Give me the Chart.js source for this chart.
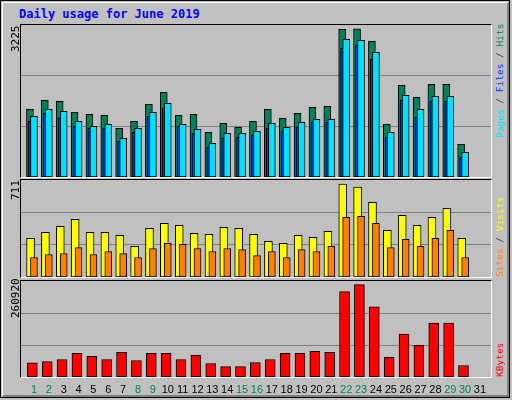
<!DOCTYPE html>
<html>
<head>
<meta charset="utf-8">
<script src="https://cdn.jsdelivr.net/npm/chart.js@4"></script>
<style>
  body { margin: 0; background: #c0c0c0; }
  #frame { position: absolute; left: 0; top: 0; width: 508px; height: 396px; background: #c0c0c0;
           border: 1px solid #000; border-right-width: 1px; }
  #bevel { position: absolute; left: 1px; top: 1px; width: 504px; height: 392px;
           border-top: 1px solid #fff; border-left: 1px solid #fff;
           border-right: 2px solid #808080; border-bottom: 2px solid #808080; }
  .panel { position: absolute; left: 20px; width: 470px; border-top: 1px solid #000; border-left: 1px solid #000;
           border-right: 1px solid #fff; border-bottom: 1px solid #fff; }
  .panel canvas { display: block; }
  .txt { position: absolute; font-family: "DejaVu Sans Mono", monospace; white-space: nowrap; }
  .vert { transform-origin: 0 0; transform: rotate(-90deg); font-size: 11px; }
  .droite { font-size: 9.5px; }
  #title { left: 19px; top: 7px; font-size: 12px; font-weight: bold; color: #0000ff; }
  .xl { position: absolute; top: 383px; font-family: "Liberation Sans", sans-serif; font-size: 11px; transform: translateX(-50%); }
</style>
</head>
<body>
<div id="frame"><div id="bevel"></div></div>
<div class="txt" id="title">Daily usage for June 2019</div>

<div class="panel" style="top:24px;height:152px"><canvas id="gTop" width="470" height="152"></canvas></div>
<div class="panel" style="top:179px;height:97px"><canvas id="gMid" width="470" height="97"></canvas></div>
<div class="panel" style="top:280px;height:96px"><canvas id="gBot" width="470" height="96"></canvas></div>

<div class="txt vert" style="left:9px;top:52px">3225</div>
<div class="txt vert" style="left:9px;top:200px">711</div>
<div class="txt vert" style="left:9px;top:318px">260920</div>

<div class="txt vert droite" style="left:494px;top:138px"><span style="color:#00e0ff">Pages</span><span style="color:#404040"> / </span><span style="color:#0040ff">Files</span><span style="color:#404040"> / </span><span style="color:#00805c">Hits</span></div>
<div class="txt vert droite" style="left:494px;top:277px"><span style="color:#ff8000">Sites</span><span style="color:#404040"> / </span><span style="color:#ffff00">Visits</span></div>
<div class="txt vert droite" style="left:494px;top:377px"><span style="color:#ff0000">KBytes</span></div>

<div id="xlabels"></div>

<script>
// jours du mois
const jours = Array.from({ length: 31 }, (_, i) => i + 1);
const finsDeSemaine = [1, 2, 8, 9, 15, 16, 22, 23, 29, 30];

// séries
const hits = [1474, 1670, 1648, 1408, 1365, 1343, 1060, 1212, 1583, 1844, 1343, 1365, 973, 1169, 1082, 1212, 1474, 1278, 1387, 1517, 1539, 3216, 3225, 2955, 1147, 1997, 1735, 2018, 2018, 711, 0];
const files = [1212, 1387, 1278, 1104, 1060, 1060, 777, 973, 1321, 1496, 1104, 951, 646, 842, 864, 908, 1060, 995, 1082, 1191, 1191, 2802, 2868, 2563, 864, 1670, 1300, 1648, 1648, 428, 0];
const pages = [1321, 1474, 1430, 1212, 1104, 1147, 842, 1060, 1408, 1604, 1147, 1038, 733, 951, 951, 995, 1169, 1082, 1191, 1256, 1256, 2998, 2977, 2715, 973, 1779, 1474, 1757, 1757, 537, 0];
const visits = [295, 341, 388, 442, 341, 341, 318, 234, 372, 411, 395, 334, 326, 380, 372, 326, 272, 257, 318, 303, 349, 711, 688, 572, 357, 472, 395, 457, 526, 295, 0];
const sites = [149, 172, 180, 226, 172, 195, 180, 149, 218, 257, 249, 218, 195, 218, 210, 164, 195, 149, 210, 195, 234, 457, 465, 411, 226, 288, 234, 295, 357, 149, 0];
const kbytes = [40000, 43800, 49500, 66600, 58000, 49500, 69500, 46600, 66600, 66600, 49500, 60900, 38000, 29500, 29500, 40900, 49500, 66600, 66600, 72400, 69500, 240900, 260920, 198000, 55200, 120900, 89500, 152300, 152300, 32400, 0];

const X_MIN = 0.128, X_MAX = 31.74;

function serie(valeurs, decalage, couleur, largeur, ordre) {
    return {
        data: valeurs.map((v, i) => ({ x: jours[i] + decalage, y: v })),
        backgroundColor: couleur, borderColor: "#000", borderWidth: 1,
        borderSkipped: false, barThickness: largeur, grouped: false, order: ordre
    };
}

function options(maxY) {
    return {
        animation: false, responsive: false,
        layout: { padding: 0 },
        plugins: { legend: { display: false }, tooltip: { enabled: false } },
        scales: {
            x: { type: "linear", min: X_MIN, max: X_MAX, display: false, offset: false },
            y: {
                min: 0, max: maxY,
                afterBuildTicks: s => { s.ticks = [{ value: maxY / 3 }, { value: 2 * maxY / 3 }]; },
                ticks: { display: false },
                grid: { color: "#808080", drawTicks: false, lineWidth: 1 },
                border: { display: false }
            }
        }
    };
}

new Chart(document.getElementById("gTop"), {
    type: "bar",
    data: { datasets: [
        serie(hits, -0.27, "#00805c", 7, 2),
        serie(files, -0.14, "#0040ff", 7, 1),
        serie(pages, 0, "#00e0ff", 7, 0)
    ] },
    options: options(3311)
});

new Chart(document.getElementById("gMid"), {
    type: "bar",
    data: { datasets: [
        serie(visits, -0.23, "#ffff00", 8, 1),
        serie(sites, 0, "#ff8000", 7, 0)
    ] },
    options: options(742)
});

const bas = new Chart(document.getElementById("gBot"), {
    type: "bar",
    data: { datasets: [ serie(kbytes, -0.11, "#ff0000", 10, 0) ] },
    options: options(271000)
});

// étiquettes des jours, placées avec l'échelle x
const echelle = bas.scales.x;
document.getElementById("xlabels").innerHTML = jours.map(d => {
    const px = 21 + echelle.getPixelForValue(d);
    const cor = finsDeSemaine.includes(d) ? "#00805c" : "#000";
    return `<span class="xl" style="left:${px}px;color:${cor}">${d}</span>`;
}).join("");
</script>
</body>
</html>
